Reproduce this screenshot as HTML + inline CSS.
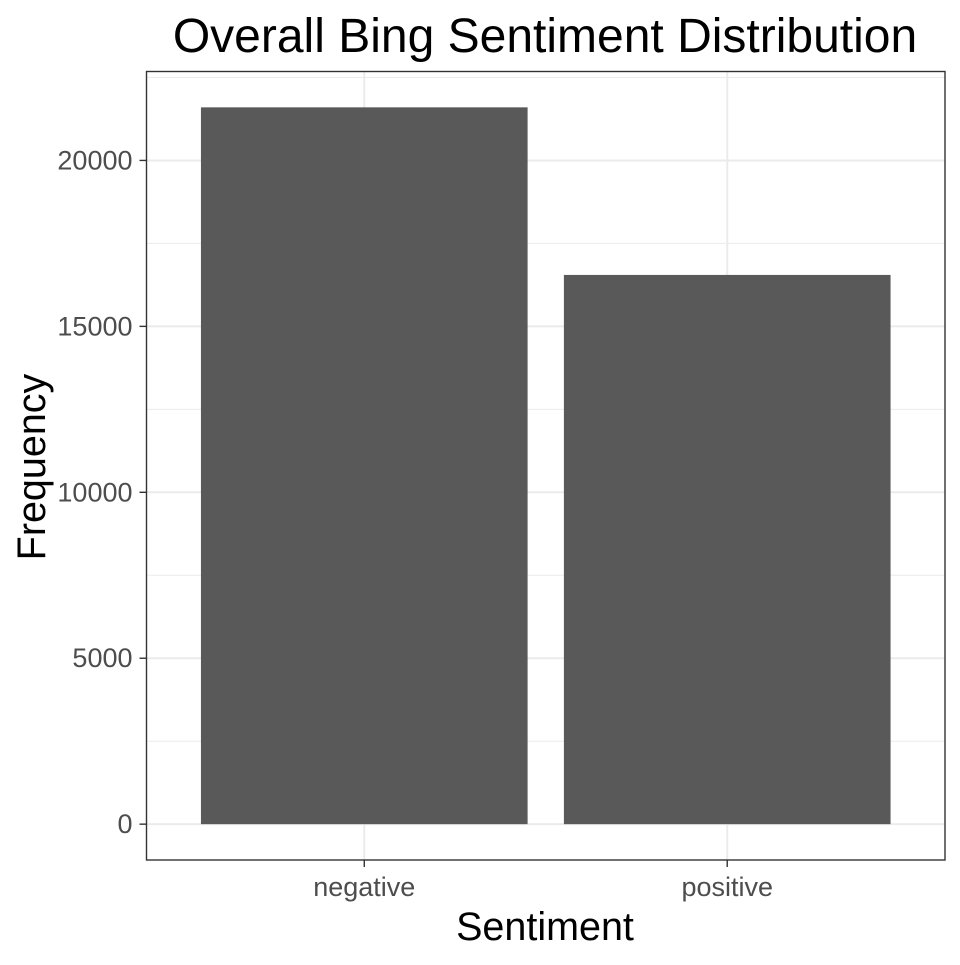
<!DOCTYPE html>
<html><head><meta charset="utf-8"><style>
body{margin:0;background:#fff;}
svg text{font-family:"Liberation Sans",Arial,sans-serif;}
</style></head><body>
<svg id="chart" width="960" height="960" xmlns="http://www.w3.org/2000/svg">
<rect width="960" height="960" fill="#fff"/>
<g id="grid"></g><g id="bars"></g><g id="axes"></g>
<rect x="146.5" y="71.5" width="798.5" height="788.5" fill="none" stroke="#333" stroke-width="1.4"/>
<text x="545" y="52" font-size="48" text-anchor="middle" fill="#000">Overall Bing Sentiment Distribution</text>
<text x="545" y="940" font-size="39.5" text-anchor="middle" fill="#000">Sentiment</text>
<text transform="translate(45,467) rotate(-90)" font-size="39.5" text-anchor="middle" fill="#000">Frequency</text>
</svg>
<script>
const categories=["negative","positive"];
const values=[21600,16550];
const yTicks=[0,5000,10000,15000,20000];
const yMinor=[2500,7500,12500,17500,22500];
const NS="http://www.w3.org/2000/svg";
const L=146.5,R=945,T=71.5,B=860;
const yMin=-1080,yMax=22680;
function y(v){return B-(v-yMin)/(yMax-yMin)*(B-T);}
function x(i){return L+(i+1-0.4)/2.2*(R-L);}
const bw=0.9/2.2*(R-L);
function mk(tag,a,p){const e=document.createElementNS(NS,tag);for(const k in a)e.setAttribute(k,a[k]);p.appendChild(e);return e;}
const g=document.getElementById('grid'),bg=document.getElementById('bars'),ax=document.getElementById('axes');
yMinor.forEach(v=>{const l=mk('line',{x1:L,x2:R,y1:y(v),y2:y(v),stroke:'#ebebeb','stroke-width':1},g);

});
yTicks.forEach(v=>{const l=mk('line',{x1:L,x2:R,y1:y(v),y2:y(v),stroke:'#ebebeb','stroke-width':2},g);


const t=mk('line',{x1:L-7,x2:L,y1:y(v),y2:y(v),stroke:'#333','stroke-width':1.4},ax);


const tx=mk('text',{x:L-14,y:y(v)+9,'font-size':27,'text-anchor':'end',fill:'#4d4d4d'},ax);tx.textContent=v;

});
categories.forEach((c,i)=>{const l=mk('line',{x1:x(i),x2:x(i),y1:T,y2:B,stroke:'#ebebeb','stroke-width':2},g);


const r=mk('rect',{x:x(i)-bw/2,y:y(values[i]),width:bw,height:y(0)-y(values[i]),fill:'#595959'},bg);


const t=mk('line',{x1:x(i),x2:x(i),y1:B,y2:B+7,stroke:'#333','stroke-width':1.4},ax);


const tx=mk('text',{x:x(i),y:B+36,'font-size':27,'text-anchor':'middle',fill:'#4d4d4d'},ax);tx.textContent=c;

});
</script>
</body></html>
